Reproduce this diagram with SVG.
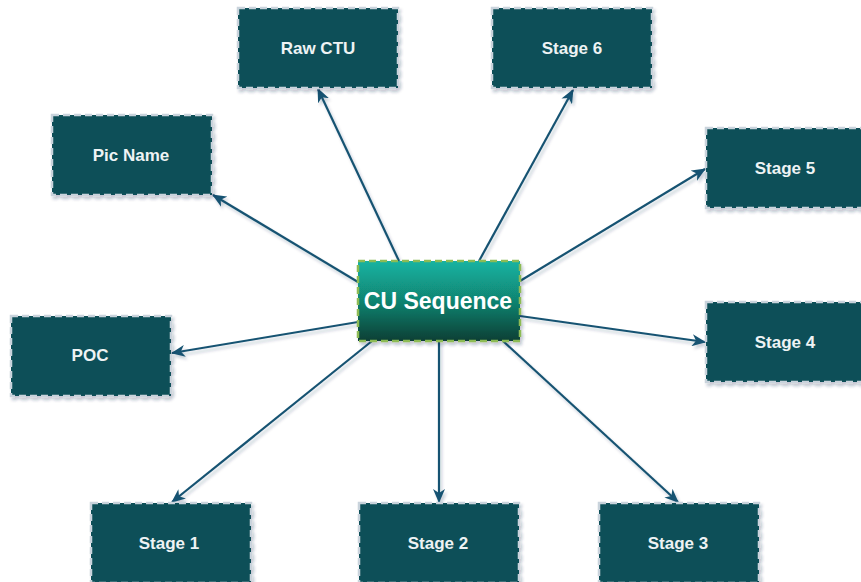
<svg xmlns="http://www.w3.org/2000/svg" width="861" height="582" viewBox="0 0 861 582">
  <style>
    .leaf rect { fill: #0e5059; stroke: #c9d3dc; stroke-width: 2.5; stroke-dasharray: 7 4; filter: url(#shadow); }
    .leaf text { fill: #eef3f4; font-family: "Liberation Sans", Arial, sans-serif; font-weight: bold; font-size: 17px; text-anchor: middle; dominant-baseline: central; }
    .hub rect { fill: url(#hubFill); stroke: #8dbb55; stroke-width: 2.5; stroke-dasharray: 7 4; filter: url(#shadow); }
    .hub text { fill: #ffffff; font-family: "Liberation Sans", Arial, sans-serif; font-weight: bold; font-size: 23px; text-anchor: middle; dominant-baseline: central; }
    #connectors { filter: url(#lineShadow); }
    #connectors line { stroke: #165372; stroke-width: 2.2; fill: none; marker-end: url(#arrow); }
  </style>
  <defs>
    <linearGradient id="hubFill" x1="0" y1="0" x2="0" y2="1">
      <stop offset="0" stop-color="#13b3a2"/>
      <stop offset="0.5" stop-color="#118471"/>
      <stop offset="1" stop-color="#0d3f35"/>
    </linearGradient>
    <filter id="shadow" x="-20%" y="-20%" width="140%" height="140%">
      <feGaussianBlur in="SourceAlpha" stdDeviation="1.5"/>
      <feOffset dx="2" dy="3" result="b"/>
      <feFlood flood-color="#1a2a50" flood-opacity="0.25"/>
      <feComposite in2="b" operator="in"/>
      <feMerge><feMergeNode/><feMergeNode in="SourceGraphic"/></feMerge>
    </filter>
    <filter id="lineShadow" filterUnits="userSpaceOnUse" x="0" y="0" width="861" height="582">
      <feGaussianBlur in="SourceAlpha" stdDeviation="1.5"/>
      <feOffset dx="2" dy="3" result="b"/>
      <feFlood flood-color="#1a2a50" flood-opacity="0.22"/>
      <feComposite in2="b" operator="in"/>
      <feMerge><feMergeNode/><feMergeNode in="SourceGraphic"/></feMerge>
    </filter>
    <marker id="arrow" viewBox="0 0 14 12" refX="13" refY="6" markerWidth="14" markerHeight="12" markerUnits="userSpaceOnUse" orient="auto">
      <path d="M0,0 L14,6 L0,12 L4,6 Z" fill="#165372"/>
    </marker>
  </defs>

  <g id="connectors">
    <line x1="399" y1="261" x2="318" y2="89"/>
    <line x1="479" y1="261" x2="573" y2="90"/>
    <line x1="358" y1="282" x2="213" y2="195"/>
    <line x1="520" y1="281" x2="705" y2="169"/>
    <line x1="358" y1="322" x2="172" y2="353"/>
    <line x1="520" y1="316" x2="705" y2="342"/>
    <line x1="372" y1="341" x2="172" y2="502"/>
    <line x1="439" y1="341" x2="439" y2="502"/>
    <line x1="503" y1="341" x2="678" y2="502"/>
  </g>

  <g id="raw-ctu" class="leaf"><rect x="238" y="8" width="160" height="80"/><text x="318" y="48">Raw CTU</text></g>
  <g id="stage-6" class="leaf"><rect x="492" y="8" width="160" height="80"/><text x="572" y="48">Stage 6</text></g>
  <g id="pic-name" class="leaf"><rect x="52" y="115" width="160" height="80"/><text x="131" y="155">Pic Name</text></g>
  <g id="stage-5" class="leaf"><rect x="706" y="128" width="160" height="80"/><text x="785" y="168">Stage 5</text></g>
  <g id="poc" class="leaf"><rect x="11" y="316" width="160" height="80"/><text x="90" y="355">POC</text></g>
  <g id="stage-4" class="leaf"><rect x="706" y="302" width="160" height="80"/><text x="785" y="342">Stage 4</text></g>
  <g id="stage-1" class="leaf"><rect x="91" y="503" width="160" height="80"/><text x="169" y="543">Stage 1</text></g>
  <g id="stage-2" class="leaf"><rect x="359" y="503" width="160" height="80"/><text x="438" y="543">Stage 2</text></g>
  <g id="stage-3" class="leaf"><rect x="599" y="503" width="160" height="80"/><text x="678" y="543">Stage 3</text></g>

  <g id="cu-sequence" class="hub"><rect x="358" y="261" width="162" height="80"/><text x="438" y="301">CU Sequence</text></g>
</svg>
